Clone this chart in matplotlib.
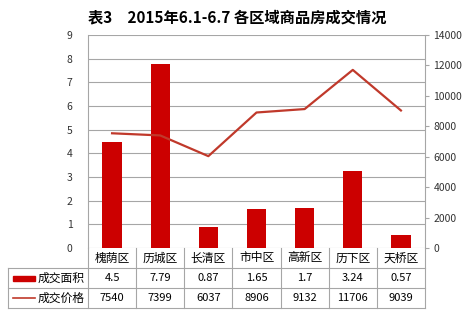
import matplotlib.pyplot as plt
import matplotlib.transforms as mtrans
import numpy as np

plt.rcParams['font.family'] = ['Noto Sans CJK SC', 'DejaVu Sans']

districts = ["槐荫区", "历城区", "长清区", "市中区", "高新区", "历下区", "天桥区"]
area = [4.5, 7.79, 0.87, 1.65, 1.7, 3.24, 0.57]
price = [7540, 7399, 6037, 8906, 9132, 11706, 9039]
area_labels = ["4.5", "7.79", "0.87", "1.65", "1.7", "3.24", "0.57"]
price_labels = ["7540", "7399", "6037", "8906", "9132", "11706", "9039"]
series_names = ["成交面积", "成交价格"]

bar_color = "#CC0000"
line_color = "#C0392B"
grid_color = "#A6A6A6"
W, H = 475, 312

fig = plt.figure(figsize=(4.75, 3.12), dpi=100)
ax = fig.add_axes([88 / W, 1 - 248 / H, (425 - 88) / W, (248 - 35) / H])
ax2 = ax.twinx()

x = np.arange(len(districts))
ax.bar(x, area, width=0.4, color=bar_color, zorder=3)
ax2.plot(x, price, color=line_color, linewidth=1.6, zorder=4)

ax.set_xlim(-0.5, len(districts) - 0.5)
ax.set_ylim(0, 9)
ax.set_yticks(range(0, 10))
ax2.set_ylim(0, 14000)
ax2.set_yticks(range(0, 14001, 2000))
ax.set_xticks([])
ax.yaxis.grid(True, color=grid_color, linewidth=0.8)
ax.set_axisbelow(True)
ax.tick_params(axis='y', length=0, labelsize=7.5, colors="#333333", pad=11)
ax2.tick_params(axis='y', length=3, color=grid_color, labelsize=7.5, labelcolor="#333333", pad=3)
for a in (ax, ax2):
    for s in a.spines.values():
        s.set_visible(False)
ax2.spines['right'].set_visible(True)
ax2.spines['right'].set_color(grid_color)
ax.spines['left'].set_visible(True)
ax.spines['left'].set_color(grid_color)

fig.text(237 / W, 1 - 17 / H, "表3　2015年6.1-6.7 各区域商品房成交情况",
         ha='center', va='center', fontsize=11, fontweight='bold')

# data table below the axes
tr = mtrans.blended_transform_factory(ax.transData, fig.transFigure)
def fy(py):
    return 1 - py / H

rows_y = [248, 268, 288, 308]
n = len(districts)
for py in rows_y[1:]:
    fig.add_artist(plt.Line2D([8 / W, 425 / W], [fy(py), fy(py)], color=grid_color, lw=0.8,
                              transform=fig.transFigure))
for i in range(n + 1):
    fig.add_artist(plt.Line2D([i - 0.5, i - 0.5], [fy(248), fy(308)], color=grid_color, lw=0.8,
                              transform=tr))
fig.add_artist(plt.Line2D([8 / W, 8 / W], [fy(268), fy(308)], color=grid_color, lw=0.8,
                          transform=fig.transFigure))

for i in range(n):
    fig.text(i, fy(258), districts[i], transform=tr, ha='center', va='center', fontsize=8.5)
    fig.text(i, fy(278), area_labels[i], transform=tr, ha='center', va='center', fontsize=8)
    fig.text(i, fy(298), price_labels[i], transform=tr, ha='center', va='center', fontsize=8)

# legend keys
fig.add_artist(plt.Rectangle((13 / W, fy(280.5)), 22 / W, 5 / H, color=bar_color,
                             transform=fig.transFigure))
fig.add_artist(plt.Line2D([13 / W, 35 / W], [fy(298), fy(298)], color=line_color, lw=1.2,
                          transform=fig.transFigure))
fig.text(38 / W, fy(278), series_names[0], ha='left', va='center', fontsize=8.5)
fig.text(38 / W, fy(298), series_names[1], ha='left', va='center', fontsize=8.5)

fig.savefig("out.png", dpi=100)
